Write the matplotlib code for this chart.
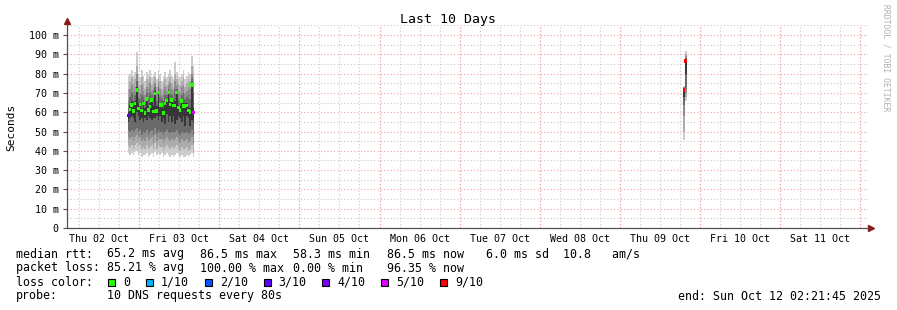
import matplotlib
matplotlib.use("Agg")
import matplotlib.pyplot as plt
import matplotlib.dates as mdates
from matplotlib.patches import Rectangle
from matplotlib.ticker import MultipleLocator, FuncFormatter
import pandas as pd

# --- data -------------------------------------------------------------------
# smoke columns, 30 min rrd steps, Oct 2 20:30 .. Oct 3 16:00, then two on Oct 9
block1_start = "2025-10-02 20:30"
block2_times = ["2025-10-09 19:00", "2025-10-09 19:30"]

median = [58.3, 61.5, 63.7, 60.6, 64.6, 71.5, 62.0, 63.9, 60.8, 64.6,
          59.7, 66.8, 61.1, 62.9, 66.3, 60.3, 69.8, 60.6, 70.1, 63.7,
          63.7, 59.7, 64.6, 66.0, 70.3, 64.1, 66.3, 63.5, 63.5, 70.3,
          62.5, 61.1, 65.8, 63.2, 63.2, 63.5, 61.0, 60.1, 74.0, 59.9,
          71.5, 86.5]
loss = [3] + [0] * 38 + [5, 9, 9]

# sorted pings: outer pair (p1/p10) to inner pair (p5/p6)
p1 = [39, 38, 39, 38, 40, 40, 38, 39, 37, 38, 38, 39, 37, 38, 39, 37, 40, 38, 39, 38,
      39, 37, 38, 39, 38, 37, 38, 37, 38, 39, 38, 37, 38, 37, 37, 38, 37, 38, 39, 37,
      45.6, 66]
p2 = [43, 42, 43, 41, 43, 44, 42, 43, 41, 42, 41, 43, 41, 42, 43, 41, 44, 41, 43, 42,
      42, 40, 42, 43, 42, 41, 42, 41, 42, 43, 41, 40, 42, 41, 41, 42, 40, 41, 43, 40,
      50, 68]
p3 = [47, 46, 47, 45, 47, 48, 46, 47, 45, 46, 45, 47, 45, 46, 47, 44, 48, 45, 47, 46,
      46, 44, 46, 47, 46, 45, 46, 45, 46, 47, 45, 44, 46, 45, 45, 46, 44, 45, 47, 44,
      58, 70]
p4 = [51, 50, 51, 49, 51, 52, 50, 51, 48, 50, 49, 51, 48, 50, 51, 48, 52, 49, 51, 50,
      50, 48, 50, 51, 50, 49, 50, 49, 50, 51, 49, 48, 50, 49, 49, 50, 48, 49, 51, 48,
      64, 72]
p5 = [55, 57, 58, 57, 55, 60, 58, 56, 57, 55, 57, 56, 58, 57, 56, 57, 57, 58, 56, 58,
      55, 57, 54, 59, 55, 58, 55, 58, 54, 56, 58, 57, 55, 58, 53, 58, 57, 53, 56, 55,
      68, 80]
p6 = [60, 64, 66, 63, 66, 73, 65, 65, 62, 66, 62, 68, 63, 65, 67, 63, 71, 63, 71, 65,
      65, 62, 66, 67, 71, 66, 67, 65, 66, 71, 64, 63, 67, 65, 65, 65, 63, 62, 75, 62,
      72, 87]
p7 = [62, 68, 70, 66, 69, 76, 68, 67, 69, 68, 65, 70, 67, 70, 69, 67, 73, 66, 73, 68,
      67, 66, 69, 69, 72, 70, 69, 67, 72, 72, 67, 66, 69, 70, 67, 68, 69, 67, 77, 70,
      72.5, 88]
p8 = [66, 72, 74, 71, 73, 80, 72, 70, 74, 71, 69, 73, 72, 75, 71, 72, 75, 70, 75, 72,
      69, 71, 73, 71, 74, 75, 72, 70, 76, 74, 71, 70, 73, 74, 70, 71, 73, 72, 80, 74,
      73, 89]
p9 = [72, 76, 78, 75, 77, 84, 76, 74, 78, 75, 72, 77, 76, 78, 74, 76, 78, 73, 78, 76,
      72, 75, 77, 74, 76, 78, 75, 73, 80, 77, 75, 74, 76, 78, 73, 75, 77, 76, 84, 79,
      73, 90]
p10 = [79, 80, 82, 79, 81, 91, 80, 78, 82, 79, 76, 81, 80, 82, 78, 80, 81, 77, 82, 80,
       76, 79, 81, 78, 80, 82, 79, 77, 86, 81, 79, 78, 80, 82, 77, 79, 81, 80, 89, 84,
       73.5, 91.7]

loss_labels = ["0", "1/10", "2/10", "3/10", "4/10", "5/10", "9/10"]
loss_keys = [0, 1, 2, 3, 4, 5, 9]
loss_colors = ["#26ff00", "#00b8ff", "#0059ff", "#5e00ff", "#7e00ff", "#dd00ff", "#ff0000"]

# --- figure -----------------------------------------------------------------
W, H = 897, 310
MONO = "DejaVu Sans Mono"
plt.rcParams["font.family"] = MONO

fig = plt.figure(figsize=(W / 100, H / 100), dpi=100)
fig.patch.set_facecolor("white")
ax = fig.add_axes([67 / W, 82 / H, 801 / W, 202.6 / H])

step = 1 / 48  # 30 minutes in days
t1 = pd.date_range(block1_start, periods=40, freq="30min")
times = mdates.date2num(list(t1) + [pd.Timestamp(t) for t in block2_times])

shades = ["#cccccc", "#acacac", "#8c8c8c", "#6a6a6a", "#363636"]
pairs = [(p1, p10), (p2, p9), (p3, p8), (p4, p7), (p5, p6)]
for (lo, hi), c in zip(pairs, shades):
    ax.bar(times, [h - l for l, h in zip(lo, hi)], bottom=lo, width=step,
           align="edge", color=c, linewidth=0, antialiased=False, zorder=2)

cmap = dict(zip(loss_keys, loss_colors))
ax.bar(times + step / 2, 1.8, bottom=[m - 0.9 for m in median], width=step * 1.6,
       align="center", color=[cmap[l] for l in loss], linewidth=0, zorder=3)

x0 = mdates.date2num(pd.Timestamp("2025-10-02 02:21:45"))
x1 = mdates.date2num(pd.Timestamp("2025-10-12 02:21:45"))
ax.set_xlim(x0, x1)
ax.set_ylim(0, 105)

red = "#f4a0a0"
gray = "#c8c8c8"
dot = (0, (1, 2))

ax.yaxis.set_major_locator(MultipleLocator(10))
ax.yaxis.set_minor_locator(MultipleLocator(5))
ax.yaxis.set_major_formatter(FuncFormatter(lambda v, p: "0" if v == 0 else f"{v:g} m"))
ax.grid(True, axis="y", which="major", color=red, linestyle=dot, linewidth=0.8, zorder=1)
ax.grid(True, axis="y", which="minor", color=gray, linestyle=dot, linewidth=0.8, zorder=1)

ax.xaxis.remove_overlapping_locs = False
ax.xaxis.set_major_locator(mdates.HourLocator(byhour=[12]))
ax.xaxis.set_major_formatter(mdates.DateFormatter("%a %d %b"))
ax.xaxis.set_minor_locator(mdates.HourLocator(byhour=[0, 6, 12, 18]))
ax.grid(True, axis="x", which="minor", color=gray, linestyle=dot, linewidth=0.8, zorder=1)
for d in pd.date_range("2025-10-03", "2025-10-12", freq="D"):
    ax.axvline(mdates.date2num(d), color=red, linestyle=dot, linewidth=0.8, zorder=1.5)

ax.set_axisbelow(True)
ax.tick_params(axis="x", which="both", length=0, pad=4, labelsize=7.2)
ax.tick_params(axis="y", which="major", length=3, width=0.8, color="#505050", pad=3, labelsize=7.2)
ax.tick_params(axis="y", which="minor", length=0)

for s in ("top", "right"):
    ax.spines[s].set_visible(False)
for s in ("left", "bottom"):
    ax.spines[s].set_color("#505050")
    ax.spines[s].set_linewidth(0.9)

arrow = "#8b1a1a"
ax.plot([0], [1.02], marker="^", color=arrow, markersize=4, transform=ax.transAxes, clip_on=False)
ax.plot([1.004], [0], marker=">", color=arrow, markersize=4, transform=ax.transAxes, clip_on=False)


def fx(px):
    return px / W


def fy(py):
    return 1 - py / H


fig.text(fx(448), fy(19), "Last 10 Days", ha="center", va="center", fontsize=9.5)
fig.text(fx(11), fy(127), "Seconds", ha="center", va="center", rotation=90, fontsize=8)
fig.text(fx(886), fy(4), "RRDTOOL / TOBI OETIKER", ha="center", va="top", rotation=270,
         fontsize=5.8, color="#b0b0b0")

fs = 8.35
cw = 6.95
rows = {
    254: [(16, "median rtt:"), (107, "65.2 ms avg"), (200, "86.5 ms max"), (293, "58.3 ms min"),
          (387, "86.5 ms now"), (486, "6.0 ms sd  10.8   am/s")],
    268: [(16, "packet loss:"), (107, "85.21 % avg"), (200, "100.00 % max"), (293, "0.00 % min"),
          (387, "96.35 % now")],
    282: [(16, "loss color:")],
    296: [(16, "probe:"), (107, "10 DNS requests every 80s")],
}
for y, items in rows.items():
    for x, s in items:
        fig.text(fx(x), fy(y), s, ha="left", va="center", fontsize=fs)

cx = 108
for lab, col in zip(loss_labels, loss_colors):
    fig.add_artist(Rectangle((fx(cx), fy(285.5)), 7 / W, 7 / H, transform=fig.transFigure,
                             facecolor=col, edgecolor="black", linewidth=0.8))
    fig.text(fx(cx + 15), fy(282), lab, ha="left", va="center", fontsize=fs)
    cx = cx + 15 + len(lab) * cw + 16

fig.text(fx(881), fy(296), "end: Sun Oct 12 02:21:45 2025", ha="right", va="center", fontsize=fs)

fig.savefig("out.png", dpi=100)
